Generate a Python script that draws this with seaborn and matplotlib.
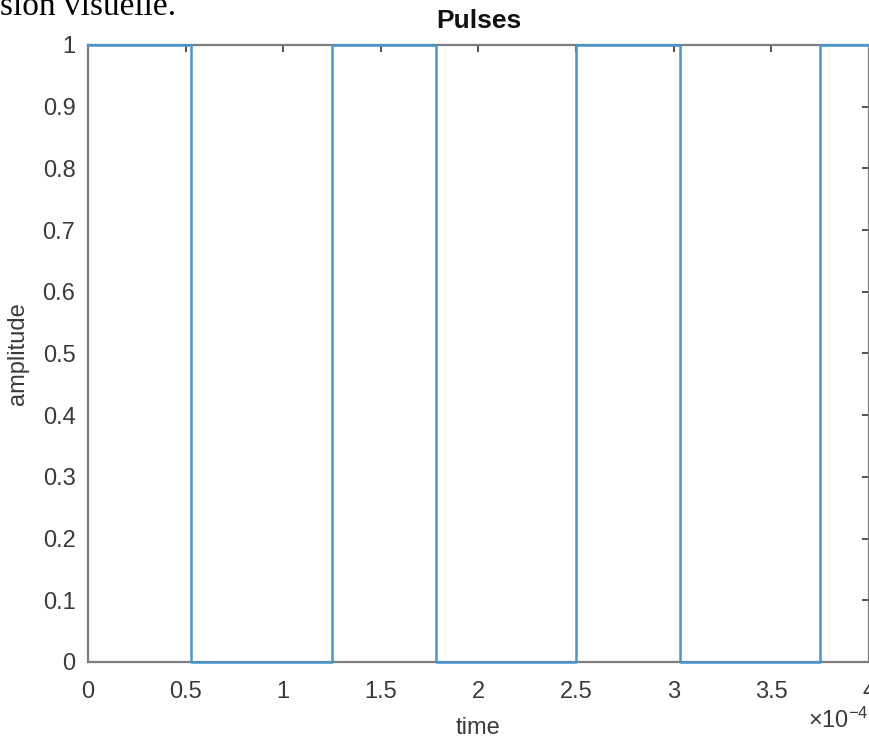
import matplotlib
matplotlib.use("Agg")
import matplotlib.pyplot as plt
import matplotlib.ticker as mticker
import numpy as np
import pandas as pd
import seaborn as sns

# Pulse train: switching instants (units of 1e-4 s) and level held after each
edge_times = [0.0, 0.53, 1.25, 1.78, 2.50, 3.03, 3.75, 4.0]
edge_levels = [1, 0, 1, 0, 1, 0, 1, 1]
time_scale = 1e-4

x_ticks = [0, 0.5, 1, 1.5, 2, 2.5, 3, 3.5, 4]
y_ticks = [0, 0.1, 0.2, 0.3, 0.4, 0.5, 0.6, 0.7, 0.8, 0.9, 1]

sns.set_style("white")
plt.rcParams["font.family"] = ["Liberation Sans", "DejaVu Sans"]
plt.rcParams["mathtext.fontset"] = "custom"
plt.rcParams["mathtext.rm"] = "Liberation Sans"

df = pd.DataFrame({
    "time": np.array(edge_times) * time_scale,
    "amplitude": edge_levels,
})

fig = plt.figure(figsize=(8.7, 7.39), dpi=100)
ax = fig.add_axes([0.1011, 0.1042, 0.8977, 0.835])

sns.lineplot(data=df, x="time", y="amplitude", ax=ax, estimator=None,
             sort=False, drawstyle="steps-post", color="#4896cc",
             linewidth=1.8, zorder=4, clip_on=False)

ax.set_xlim(0, 4 * time_scale)
ax.set_ylim(0, 1)
ax.set_xticks([t * time_scale for t in x_ticks])
ax.xaxis.set_major_formatter(mticker.FuncFormatter(lambda v, p: f"{v / time_scale:g}"))
ax.set_yticks(y_ticks)
ax.yaxis.set_major_formatter(mticker.FuncFormatter(lambda v, p: f"{v:g}"))

label_color = "#3a3a3a"
for side in ["left", "right", "top", "bottom"]:
    ax.spines[side].set_visible(True)
    ax.spines[side].set_color("#7d7d7d")
    ax.spines[side].set_linewidth(1.6)

ax.tick_params(axis="both", which="major", direction="in", length=5, width=1.2,
               color="#333333", labelsize=17, labelcolor=label_color,
               top=True, right=True)
ax.tick_params(axis="x", pad=14)
ax.tick_params(axis="y", pad=9)

ax.set_xlabel("time", fontsize=17, color=label_color, labelpad=10)
ax.set_ylabel("amplitude", fontsize=17, color=label_color, labelpad=10)
ax.set_title("Pulses", fontsize=19, fontweight="bold", color="#111111", pad=12)

ax.text(1.0, -0.095, r"$\times\mathregular{10^{-4}}$", transform=ax.transAxes,
        ha="right", va="center", fontsize=17, color=label_color)

# Fragment of the surrounding document text above the figure
fig.text(0.0, 0.9797, "sion visuelle.", family=["Liberation Serif", "DejaVu Serif"],
         fontsize=24, color="black", ha="left", va="baseline")

ax.grid(False)
fig.savefig("out.png", dpi=100)
